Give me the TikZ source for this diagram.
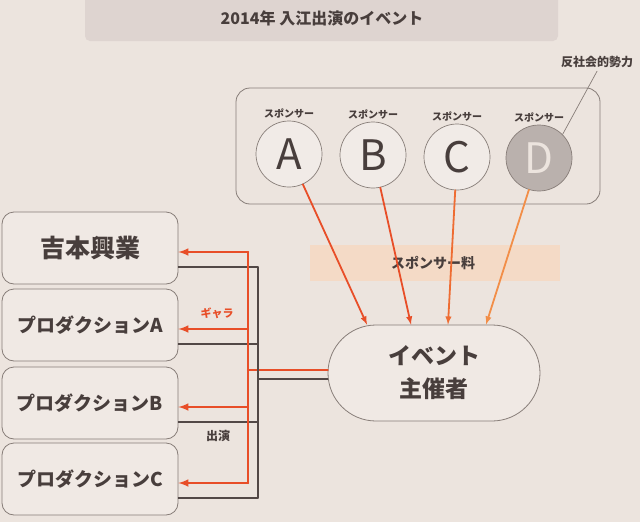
\documentclass[tikz,border=0pt]{standalone}
\usepackage{fontspec}
\setmainfont{Noto Sans CJK JP}
\usetikzlibrary{positioning}
\definecolor{paper}{RGB}{236,228,222}
\definecolor{boxfill}{RGB}{240,233,228}
\definecolor{boxline}{RGB}{135,125,120}
\definecolor{circfill}{RGB}{241,235,231}
\definecolor{dfill}{RGB}{186,177,173}
\definecolor{ink}{RGB}{72,62,60}
\definecolor{bannerfill}{RGB}{222,212,208}
\definecolor{bandfill}{RGB}{244,218,198}
\definecolor{payred}{RGB}{232,78,40}
\definecolor{payc}{RGB}{238,108,50}
\definecolor{payd}{RGB}{242,142,72}
\definecolor{perfline}{RGB}{82,72,70}
\begin{document}
\begin{tikzpicture}[x=1pt,y=-1pt,>=latex,line join=round,line cap=round,
	co/.style={draw=boxline,fill=boxfill,line width=0.8pt,rounded corners=12pt,minimum width=176pt,minimum height=72pt,font=\bfseries\fontsize{19}{22}\selectfont,text=ink},
	sp/.style={circle,draw=boxline,fill=circfill,line width=0.7pt,minimum size=66pt,inner sep=0pt,font=\fontsize{42}{42}\selectfont,text=ink},
	splabel/.style={font=\bfseries\fontsize{10}{12}\selectfont,text=ink,inner sep=1pt},
	pay/.style={draw=payred,line width=1.8pt},
	perf/.style={draw=perfline,line width=1.3pt}]
	\useasboundingbox[fill=paper] (0,0) rectangle (640,522);
	% title
	\fill[bannerfill,rounded corners=5pt] (85,-6) rectangle (558,41);
	\node[font=\bfseries\fontsize{16}{18}\selectfont,text=ink] (title) at (322,18) {2014年 入江出演のイベント};
	% sponsors
	\node[draw=boxline,line width=0.8pt,rounded corners=14pt,minimum width=364pt,minimum height=116pt] (spbox) at (418,146) {};
	\node[sp] (A) at (289,154) {A};
	\node[sp] (B) at (373,155) {B};
	\node[sp] (C) at (457,157) {C};
	\node[sp,fill=dfill,text=paper] (D) at (539,158) {D};
	\foreach \s in {A,B,C,D} \node[splabel,above=1pt of \s] {スポンサー};
	\node[font=\bfseries\fontsize{12}{14}\selectfont,text=ink] (anti) at (597,62) {反社会的勢力};
	\draw[boxline,line width=0.7pt] (anti.south) -- (D.45);
	% event
	\fill[bandfill] (310,245) rectangle (560,281);
	\node[font=\bfseries\fontsize{14}{16}\selectfont,text=ink] (fee) at (433,263) {スポンサー料};
	\node[draw=boxline,fill=boxfill,line width=0.8pt,rounded corners=48pt,minimum width=212pt,minimum height=96pt,align=center,font=\bfseries\fontsize{23}{33}\selectfont,text=ink] (ev) at (434,373) {イベント\\主催者};
	\draw[pay,->] (A) -- ([xshift=-67pt]ev.north);
	\draw[pay,->] (B) -- ([xshift=-23pt]ev.north);
	\draw[pay,->,draw=payc] (C) -- ([xshift=14pt]ev.north);
	\draw[pay,->,draw=payd] (D) -- ([xshift=52pt]ev.north);
	% companies
	\node[co,font=\bfseries\fontsize{25}{28}\selectfont] (yb) at (90,248) {吉本興業};
	\node[co] (pa) at (90,325) {プロダクションA};
	\node[co] (pb) at (90,403) {プロダクションB};
	\node[co] (pc) at (90,479) {プロダクションC};
	\coordinate (pbus) at (248,370);
	\coordinate (obus) at (258,379);
	\foreach \n in {yb,pa,pb,pc}{
		\coordinate (\n-p) at ([yshift=-4pt]\n.east);
		\coordinate (\n-o) at ([yshift=-19pt]\n.east);
		\draw[pay,line width=2.4pt,->] (pbus |- \n-p) -- (\n-p);
		\draw[perf] (\n-o) -- (obus |- \n-o);
	}
	\draw[pay,line width=2.4pt] (pbus |- yb-p) -- (pbus |- pc-p) (pbus) -- ([yshift=3pt]ev.west);
	\draw[perf] (obus |- yb-o) -- (obus |- pc-o) (obus) -- ([yshift=-6pt]ev.west);
	\node[font=\bfseries\fontsize{11}{13}\selectfont,text=payred] (gara) at (217,313) {ギャラ};
	\node[font=\bfseries\fontsize{12}{14}\selectfont,text=ink] (show) at (218,436) {出演};
\end{tikzpicture}
\end{document}
